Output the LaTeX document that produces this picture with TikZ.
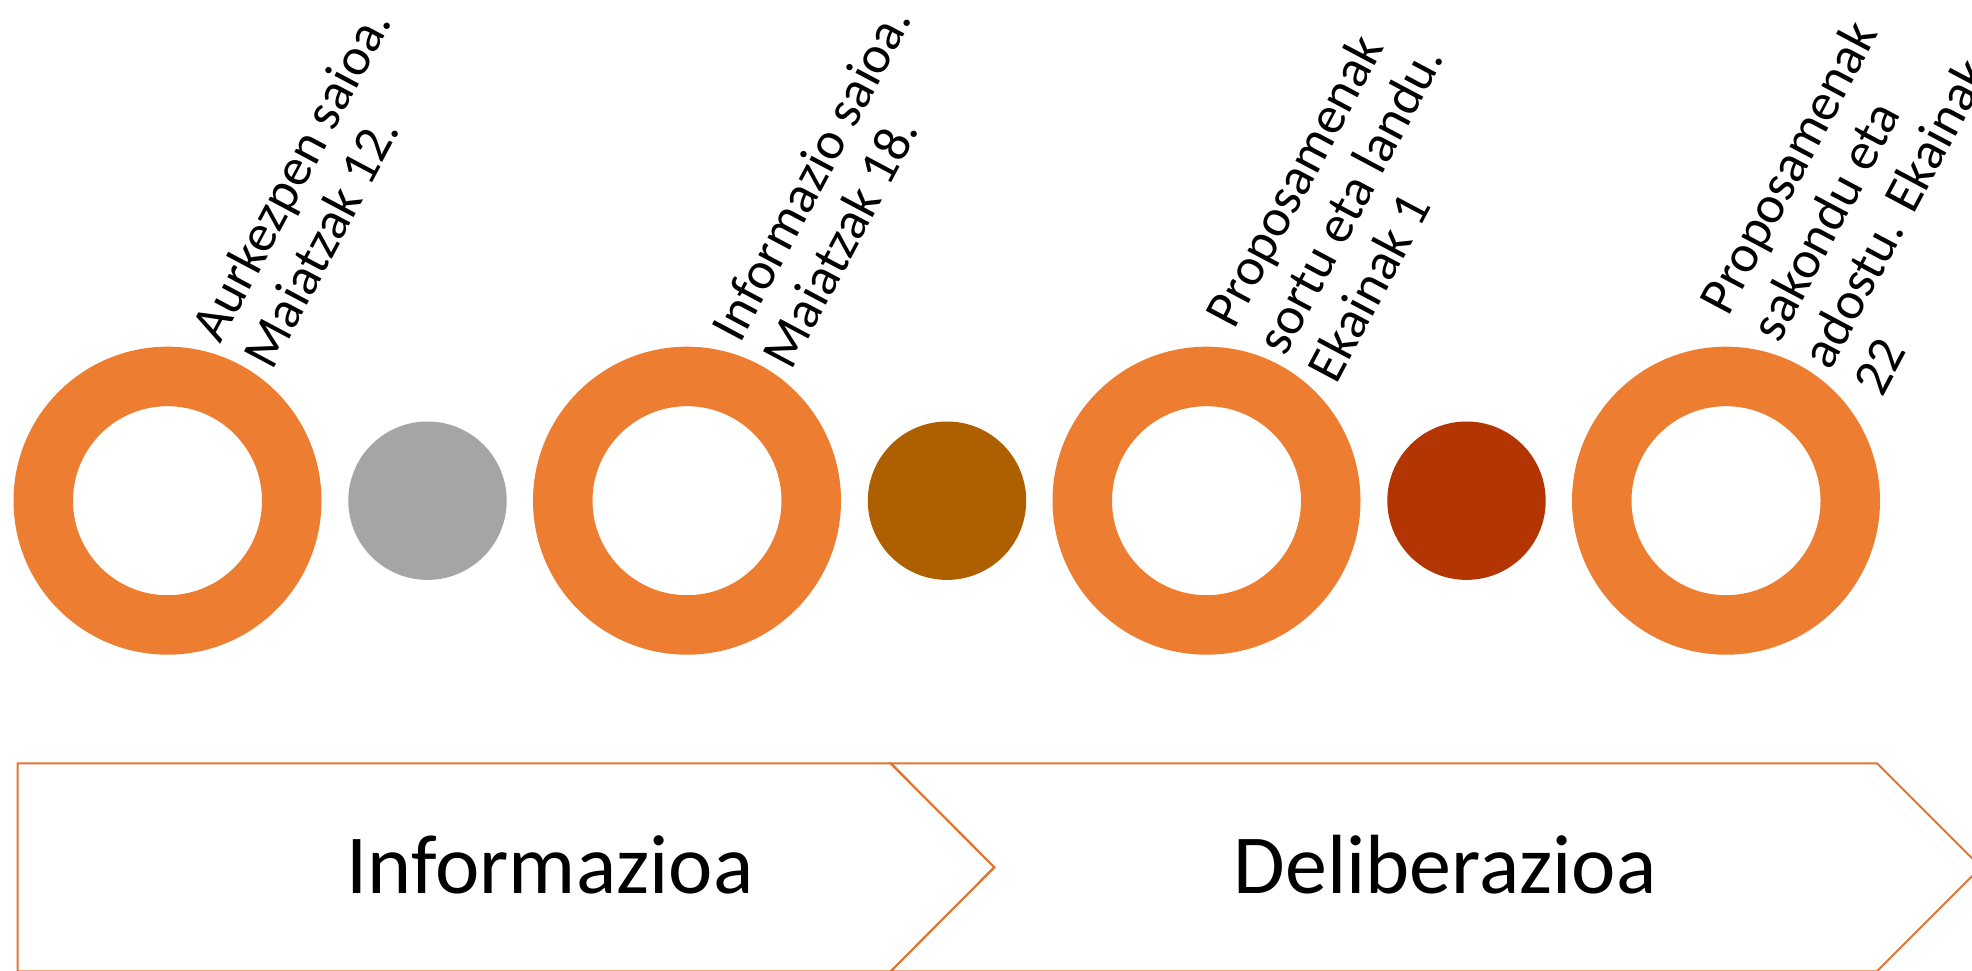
\documentclass[tikz,border=0pt]{standalone}
\usepackage{fontspec}
\setmainfont{Carlito}
\definecolor{ringorange}{HTML}{ED7D31}
\definecolor{dotgray}{HTML}{A5A5A5}
\definecolor{dotbrown}{HTML}{AE6000}
\definecolor{dotrust}{HTML}{B43504}
\definecolor{chevline}{HTML}{E07633}

\begin{document}
\begin{tikzpicture}[x=0.5pt,y=0.5pt,
    ring/.style={circle,draw=ringorange,line width=29.75pt,minimum size=124.25pt,inner sep=0pt},
    dot/.style={circle,fill=#1,minimum size=79.2pt,inner sep=0pt},
    when/.style={rotate=62,anchor=west,align=left,inner sep=0pt,font=\fontsize{26.5}{29}\selectfont},
    phase/.style={inner sep=0pt,font=\fontsize{42}{50}\selectfont}]
          \useasboundingbox (0,0) rectangle (1972,970);
          \clip (0,0) rectangle (1972,970);

          \draw[chevline,line width=1pt] (17.6,206.7) -- (890.7,206.7) -- (994.3,102.7) -- (890.7,-1.3) -- (17.6,-1.3) -- cycle;
          \draw[chevline,line width=1pt] (890.7,206.7) -- (1877,206.7) -- (1981,102.7) -- (1877,-1.3) -- (890.7,-1.3) -- (994.3,102.7) -- cycle;
          \node[phase] (info) at (550,105.5) {Informazioa};
          \node[phase] (delib) at (1445,105.5) {Deliberazioa};

          \node[ring] (ring1) at (167.5,469.3) {};
          \node[dot=dotgray] (gap1) at (427.5,469.3) {};
          \node[ring] (ring2) at (687,469.3) {};
          \node[dot=dotbrown] (gap2) at (947,469.3) {};
          \node[ring] (ring3) at (1206.5,469.3) {};
          \node[dot=dotrust] (gap3) at (1466.5,469.3) {};
          \node[ring] (ring4) at (1726,469.3) {};

          \node[when] (when1) at (230.3,620.4) {Aurkezpen saioa.\\Maiatzak 12.};
          \node[when] (when2) at (749.8,620.4) {Informazio saioa.\\Maiatzak 18.};
          \node[when] (when3) at (1269.3,620.4) {Proposamenak\\sortu eta landu.\\Ekainak 1};
          \node[when] (when4) at (1788.8,620.4) {Proposamenak\\sakondu eta\\adostu. Ekainak\\22};
\end{tikzpicture}
\end{document}
